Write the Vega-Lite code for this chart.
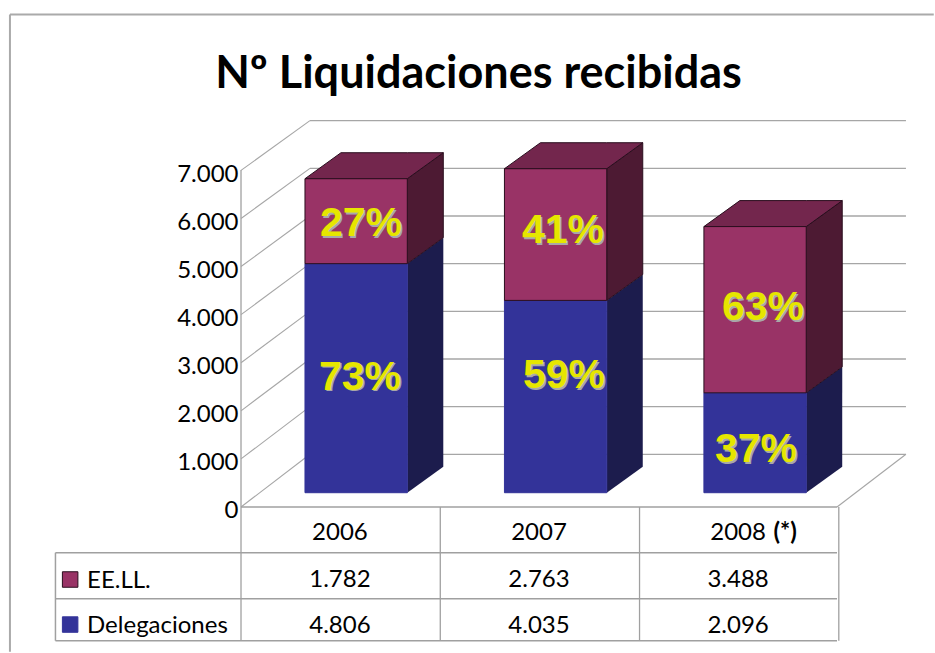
{
"$schema":"https://vega.github.io/schema/vega-lite/v6.json",
"width":935,"height":653,"padding":0,
"autosize":{"type":"fit","contains":"padding"},
"background":"white",
"config":{"view":{"stroke":null}},
"title":{"text":"Nº Liquidaciones recibidas","font":"Lato","fontSize":45,"fontWeight":"bold","color":"#000000","anchor":"middle","frame":"group","baseline":"alphabetic","offset":-88,"dx":11,"dy":45},
"datasets":{
"bars":[
{"year":"2006","i":0,"series":"Delegaciones","order":1,"value":4806,"share":"73%"},
{"year":"2006","i":0,"series":"EE.LL.","order":2,"value":1782,"share":"27%"},
{"year":"2007","i":1,"series":"Delegaciones","order":1,"value":4035,"share":"59%"},
{"year":"2007","i":1,"series":"EE.LL.","order":2,"value":2763,"share":"41%"},
{"year":"2008","i":2,"series":"Delegaciones","order":1,"value":2096,"share":"37%"},
{"year":"2008","i":2,"series":"EE.LL.","order":2,"value":3488,"share":"63%"}
],
"grid":[{"k":0},{"k":1000},{"k":2000},{"k":3000},{"k":4000},{"k":5000},{"k":6000},{"k":7000}],
"axisEdge":[{"lo":0,"hi":7000}],
"frame":[{"part":"top"},{"part":"left"}],
"tableLines":[{"part":"floor"},{"part":"head"},{"part":"row1"},{"part":"bottom"},{"part":"side"}]
},
"encoding":{
"x":{"field":"ax","type":"quantitative","axis":null,"scale":{"domain":[-1.2131,3.4932],"nice":false,"zero":false}},
"y":{"field":"ay","type":"quantitative","axis":null,"scale":{"domain":[-3363,10338],"nice":false,"zero":false}}
},
"resolve":{"scale":{"y":"independent"}},
"layer":[
{"data":{"name":"axisEdge"},"transform":[{"calculate":"0","as":"ax"}],"mark":{"type":"rule","color":"#999999","strokeWidth":1.2},
"encoding":{
"y":{"field":"lo","type":"quantitative","scale":{"domain":[-3033,10532],"nice":false,"zero":false},
"axis":{"orient":"left","offset":-241,"values":[0,1000,2000,3000,4000,5000,6000,7000],"labelExpr":"replace(format(datum.value,','),',','.')","title":null,"domain":false,"ticks":false,"grid":false,"labelFont":"Lato","labelFontSize":24,"labelColor":"#000000","labelPadding":3,"labelOffset":4,"labelOverlap":false,"labelBound":false}},
"y2":{"field":"hi"}}},
{"layer":[
{"data":{"name":"frame"},"transform":[{"calculate":"-1.163","as":"ax"},{"calculate":"datum.part==='top'?3.487:-1.163","as":"ax2"},{"calculate":"10033","as":"ay"},{"calculate":"datum.part==='top'?10033:-3335","as":"ay2"}],
"mark":{"type":"rule","color":"#aaaaaa","strokeWidth":2},"encoding":{"x2":{"field":"ax2"},"y2":{"field":"ay2"}}},
{"data":{"name":"grid"},"transform":[{"calculate":"0.347","as":"ax"},{"calculate":"3.347","as":"ax2"},{"calculate":"datum.k+806","as":"ay"}],
"mark":{"type":"rule","color":"#a6a6a6","strokeWidth":1.3},"encoding":{"x2":{"field":"ax2"}}},
{"data":{"name":"grid"},"transform":[{"calculate":"0","as":"ax"},{"calculate":"0.347","as":"ax2"},{"calculate":"datum.k*1.009-300","as":"ay"},{"calculate":"datum.k+806","as":"ay2"}],
"mark":{"type":"rule","color":"#a6a6a6","strokeWidth":1.1},"encoding":{"x2":{"field":"ax2"},"y2":{"field":"ay2"}}},
{"data":{"values":[{"part":"floorEdge"}]},"transform":[{"calculate":"3","as":"ax"},{"calculate":"3.347","as":"ax2"},{"calculate":"-300","as":"ay"},{"calculate":"806","as":"ay2"}],
"mark":{"type":"rule","color":"#a6a6a6","strokeWidth":1.1},"encoding":{"x2":{"field":"ax2"},"y2":{"field":"ay2"}}},
{"data":{"name":"tableLines"},"transform":[
{"calculate":"datum.part==='floor'?0:-0.934","as":"ax"},
{"calculate":"datum.part==='side'?-0.934:3","as":"ax2"},
{"calculate":"{'floor':-300,'head':-1259,'row1':-2224,'bottom':-3105,'side':-1259}[datum.part]","as":"ay"},
{"calculate":"datum.part==='side'?-3105:datum.ay","as":"ay2"}],
"mark":{"type":"rule","color":"#a0a0a0","strokeWidth":1.5},"encoding":{"x2":{"field":"ax2"},"y2":{"field":"ay2"}}},
{"data":{"values":[{"col":0},{"col":1},{"col":2},{"col":3}]},"transform":[{"calculate":"datum.col*1.003","as":"ax"},{"calculate":"-300","as":"ay"},{"calculate":"-3105","as":"ay2"}],
"mark":{"type":"rule","color":"#a0a0a0","strokeWidth":1.3},"encoding":{"y2":{"field":"ay2"}}},
{"data":{"name":"bars"},
"transform":[
{"stack":"value","groupby":["year"],"sort":[{"field":"order"}],"as":["v0","v1"]},
{"calculate":"datum.i*1.004+0.322","as":"x0"},
{"calculate":"datum.x0+0.515","as":"x1"}
],
"layer":[
{"transform":[{"filter":"datum.series==='Delegaciones'"},{"calculate":"[0,1]","as":"k"},{"flatten":["k"]},{"calculate":"datum.x1+datum.k*0.1812","as":"ax"},{"calculate":"datum.v0+datum.k*545.5","as":"ay"},{"calculate":"datum.v1+datum.k*545.5","as":"ay2"}],
"mark":{"type":"area","orient":"vertical","color":"#1c1c4d"},"encoding":{"y2":{"field":"ay2"},"detail":{"field":"year"}}},
{"transform":[{"filter":"datum.series==='EE.LL.'"},{"calculate":"[0,1]","as":"k"},{"flatten":["k"]},{"calculate":"datum.x1+datum.k*0.1812","as":"ax"},{"calculate":"datum.v0+datum.k*545.5","as":"ay"},{"calculate":"datum.v1+datum.k*545.5","as":"ay2"}],
"mark":{"type":"area","orient":"vertical","color":"#4d1a33","stroke":"#2a0e1e","strokeWidth":1},"encoding":{"y2":{"field":"ay2"},"detail":{"field":"year"}}},
{"transform":[{"filter":"datum.series==='EE.LL.'"},{"calculate":"[0,1,2,3]","as":"k"},{"flatten":["k"]},
{"calculate":"datum.k==0?datum.x0:datum.k==1?datum.x0+0.1812:datum.k==2?datum.x1:datum.x1+0.1812","as":"ax"},
{"calculate":"datum.k==3?datum.v1+545.5:datum.v1","as":"ay"},
{"calculate":"datum.k==0?datum.v1:datum.v1+545.5","as":"ay2"}],
"mark":{"type":"area","orient":"vertical","color":"#73264d","stroke":"#2a0e1e","strokeWidth":1},"encoding":{"y2":{"field":"ay2"},"detail":{"field":"year"}}},
{"transform":[{"calculate":"datum.x0","as":"ax"},{"calculate":"datum.x1","as":"ax2"},{"calculate":"datum.v0","as":"ay"},{"calculate":"datum.v1","as":"ay2"}],
"mark":{"type":"rect","strokeWidth":1},
"encoding":{"x2":{"field":"ax2"},"y2":{"field":"ay2"},
"fill":{"field":"series","type":"nominal","legend":null,"scale":{"domain":["EE.LL.","Delegaciones"],"range":["#993366","#333399"]}},
"stroke":{"field":"series","type":"nominal","legend":null,"scale":{"domain":["EE.LL.","Delegaciones"],"range":["#2a0e1e","#333399"]}}}},
{"transform":[{"calculate":"{'27%':0.604,'73%':0.599,'41%':1.621,'59%':1.626,'63%':2.627,'37%':2.592}[datum.share]","as":"ax"},{"calculate":"{'27%':5638,'73%':2407,'41%':5487,'59%':2448,'63%':3875,'37%':896}[datum.share]","as":"ay"}],
"mark":{"type":"text","font":"Liberation Sans","fontWeight":"bold","fontSize":41,"color":"#a8a8a8","dx":1.5,"dy":1.5,"baseline":"middle"},"encoding":{"text":{"field":"share"}}},
{"transform":[{"calculate":"{'27%':0.604,'73%':0.599,'41%':1.621,'59%':1.626,'63%':2.627,'37%':2.592}[datum.share]","as":"ax"},{"calculate":"{'27%':5638,'73%':2407,'41%':5487,'59%':2448,'63%':3875,'37%':896}[datum.share]","as":"ay"}],
"mark":{"type":"text","font":"Liberation Sans","fontWeight":"bold","fontSize":41,"color":"#e6e600","baseline":"middle"},"encoding":{"text":{"field":"share"}}},
{"transform":[{"filter":"datum.series==='Delegaciones'"},{"calculate":"datum.i*1.002+0.498","as":"ax"},{"calculate":"-845","as":"ay"}],
"mark":{"type":"text","font":"Lato","fontSize":24,"color":"#000000","baseline":"middle"},"encoding":{"text":{"field":"year"}}},
{"transform":[{"calculate":"datum.i*1.002+0.498","as":"ax"},{"calculate":"datum.series==='EE.LL.'?-1840:-2794","as":"ay"},{"calculate":"replace(format(datum.value,','),',','.')","as":"label"}],
"mark":{"type":"text","font":"Lato","fontSize":24,"color":"#000000","baseline":"middle"},"encoding":{"text":{"field":"label"}}},
{"transform":[{"filter":"datum.year==='2006'"},{"calculate":"-0.775","as":"ax"},{"calculate":"datum.series==='EE.LL.'?-1860:-2794","as":"ay"}],
"mark":{"type":"text","font":"Lato","fontSize":24,"color":"#000000","align":"left","baseline":"middle"},"encoding":{"text":{"field":"series"}}},
{"transform":[{"filter":"datum.year==='2006'"},{"calculate":"-0.86","as":"ax"},{"calculate":"datum.series==='EE.LL.'?-1821:-2766","as":"ay"}],
"mark":{"type":"point","shape":"square","filled":true,"size":240,"strokeWidth":1,"opacity":1},
"encoding":{
"fill":{"field":"series","type":"nominal","legend":null,"scale":{"domain":["EE.LL.","Delegaciones"],"range":["#993366","#333399"]}},
"stroke":{"field":"series","type":"nominal","legend":null,"scale":{"domain":["EE.LL.","Delegaciones"],"range":["#2a0e1e","#333399"]}}}}
]},
{"data":{"values":[{"note":"(*)"}]},"transform":[{"calculate":"2.68","as":"ax"},{"calculate":"-845","as":"ay"}],
"mark":{"type":"text","font":"Lato","fontWeight":"bold","fontSize":24,"color":"#000000","align":"left","baseline":"middle"},"encoding":{"text":{"field":"note"}}}
]}
]
}
